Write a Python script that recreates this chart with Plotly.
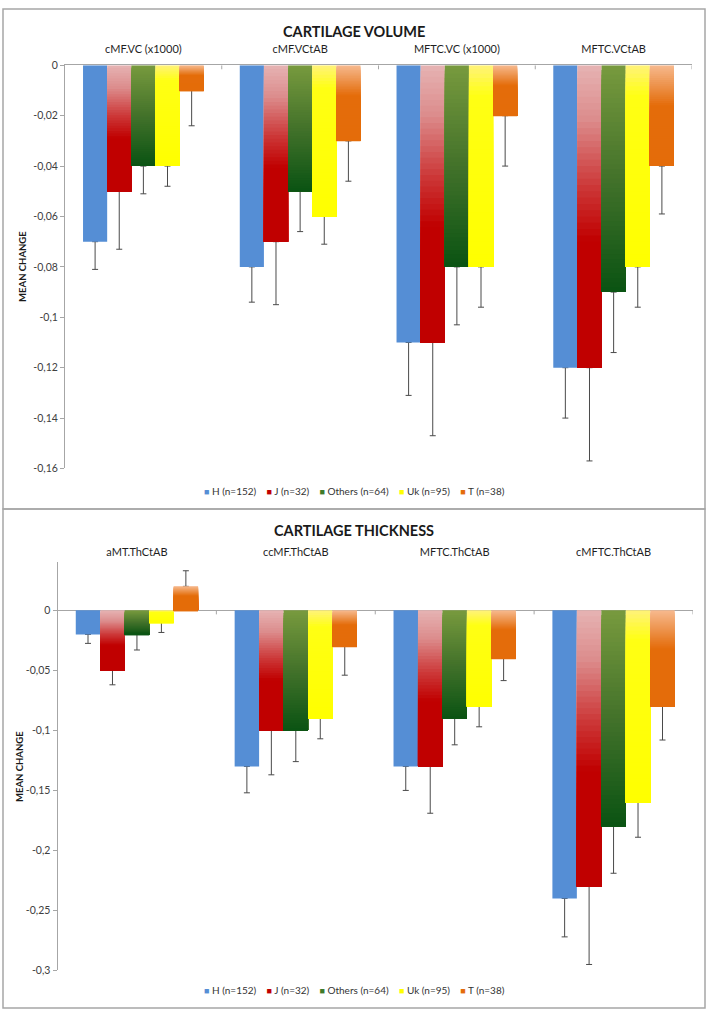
import plotly.graph_objects as go

# ---------------- data ----------------
series_names = ["H (n=152)", "J (n=32)", "Others (n=64)", "Uk (n=95)", "T (n=38)"]

vol_categories = ["cMF.VC (x1000)", "cMF.VCtAB", "MFTC.VC (x1000)", "MFTC.VCtAB"]
vol_H = [-0.07, -0.08, -0.11, -0.12]
vol_J = [-0.05, -0.07, -0.11, -0.12]
vol_Others = [-0.04, -0.05, -0.08, -0.09]
vol_Uk = [-0.04, -0.06, -0.08, -0.08]
vol_T = [-0.01, -0.03, -0.02, -0.04]
vol_err_H = [0.011, 0.014, 0.021, 0.020]
vol_err_J = [0.023, 0.025, 0.037, 0.037]
vol_err_Others = [0.011, 0.016, 0.023, 0.024]
vol_err_Uk = [0.008, 0.011, 0.016, 0.016]
vol_err_T = [0.014, 0.016, 0.020, 0.019]

thk_categories = ["aMT.ThCtAB", "ccMF.ThCtAB", "MFTC.ThCtAB", "cMFTC.ThCtAB"]
thk_H = [-0.02, -0.13, -0.13, -0.24]
thk_J = [-0.05, -0.10, -0.13, -0.23]
thk_Others = [-0.02, -0.10, -0.09, -0.18]
thk_Uk = [-0.01, -0.09, -0.08, -0.16]
thk_T = [0.02, -0.03, -0.04, -0.08]
thk_err_H = [0.0075, 0.022, 0.020, 0.032]
thk_err_J = [0.012, 0.037, 0.039, 0.065]
thk_err_Others = [0.013, 0.026, 0.022, 0.039]
thk_err_Uk = [0.0084, 0.017, 0.017, 0.029]
thk_err_T = [0.013, 0.024, 0.0185, 0.028]

vol_tickvals = [0, -0.02, -0.04, -0.06, -0.08, -0.1, -0.12, -0.14, -0.16]
vol_ticktext = ["0", "-0,02", "-0,04", "-0,06", "-0,08", "-0,1", "-0,12", "-0,14", "-0,16"]
thk_tickvals = [0, -0.05, -0.1, -0.15, -0.2, -0.25, -0.3]
thk_ticktext = ["0", "-0,05", "-0,1", "-0,15", "-0,2", "-0,25", "-0,3"]

# ---------------- styles ----------------
FONT = "Lato"
W, H = 708, 1017
gradients = [
    [(0.0, "#558ED5"), (1.0, "#558ED5")],
    [(0.0, "#E6B3B3"), (0.18, "#DC8C8C"), (0.4, "#CC3838"), (0.58, "#C00000"), (1.0, "#C00000")],
    [(0.0, "#789A3E"), (0.5, "#43722A"), (1.0, "#0A5313")],
    [(0.0, "#FFF27A"), (0.15, "#FFFF14"), (1.0, "#FFFF00")],
    [(0.0, "#F6B98E"), (0.4, "#E46C0A"), (1.0, "#E46C0A")],
]
legend_colors = ["#558ED5", "#C00000", "#3F7A2A", "#FFFF00", "#E46C0A"]
ERR_COLOR = "#4a4a4a"
AXIS_COLOR = "#a6a6a6"
K = 48


def hex2rgb(h):
    h = h.lstrip("#")
    return [int(h[i:i + 2], 16) for i in (0, 2, 4)]


def grad_color(stops, f):
    for (f0, c0), (f1, c1) in zip(stops[:-1], stops[1:]):
        if f0 <= f <= f1:
            t = 0 if f1 == f0 else (f - f0) / (f1 - f0)
            a, b = hex2rgb(c0), hex2rgb(c1)
            r = [round(a[i] + (b[i] - a[i]) * t) for i in range(3)]
            return "rgb(%d,%d,%d)" % tuple(r)
    return stops[-1][1]


fig = go.Figure()

panels = [
    ("x", "y", vol_categories,
     [vol_H, vol_J, vol_Others, vol_Uk, vol_T],
     [vol_err_H, vol_err_J, vol_err_Others, vol_err_Uk, vol_err_T]),
    ("x2", "y2", thk_categories,
     [thk_H, thk_J, thk_Others, thk_Uk, thk_T],
     [thk_err_H, thk_err_J, thk_err_Others, thk_err_Uk, thk_err_T]),
]

for xa, ya, cats, vals_list, errs_list in panels:
    # error-bar carriers (transparent bars), drawn first
    for i, (vals, errs) in enumerate(zip(vals_list, errs_list)):
        fig.add_trace(go.Bar(
            x=cats, y=vals, xaxis=xa, yaxis=ya, offsetgroup=str(i),
            marker=dict(color="rgba(0,0,0,0)", line=dict(width=0)),
            error_y=dict(type="data", symmetric=False,
                         array=[e if v > 0 else 0 for v, e in zip(vals, errs)],
                         arrayminus=[e if v < 0 else 0 for v, e in zip(vals, errs)],
                         color=ERR_COLOR, thickness=1, width=3),
            showlegend=False, hoverinfo="skip", name=series_names[i]))
    # gradient bars drawn as nested slices (each slice runs to the bar end)
    for i, vals in enumerate(vals_list):
        stops = gradients[i]
        n = 1 if len(set(c for _, c in stops)) == 1 else K
        for k in range(n):
            tops = [max(v, 0) - k * abs(v) / n for v in vals]
            bottoms = [min(v, 0) for v in vals]
            fig.add_trace(go.Bar(
                x=cats, y=[b - t for b, t in zip(bottoms, tops)], base=tops,
                xaxis=xa, yaxis=ya, offsetgroup=str(i),
                marker=dict(color=grad_color(stops, (k + 0.5) / n), line=dict(width=0)),
                showlegend=False, hoverinfo="skip", name=series_names[i]))

# ---------------- layout ----------------
def py(p):
    return 1 - p / H

axis_common = dict(showgrid=False, fixedrange=True)
fig.update_layout(
    width=W, height=H, autosize=False,
    margin=dict(l=0, r=0, t=0, b=0),
    paper_bgcolor="white", plot_bgcolor="white",
    barmode="group", bargap=0.23, bargroupgap=0,
    showlegend=False,
    font=dict(family=FONT, color="#262626"),
    xaxis=dict(domain=[65 / W, 692 / W], anchor="y", side="top", type="category",
               range=[-0.5, 3.5], showline=True, linecolor=AXIS_COLOR, linewidth=1,
               ticks="", ticklabelstandoff=7,
               tickfont=dict(family=FONT, size=11, color="#1f1f1f"), **axis_common),
    yaxis=dict(domain=[py(468), py(60)], anchor="x", range=[-0.16, 0],
               tickvals=vol_tickvals, ticktext=vol_ticktext,
               showline=True, linecolor=AXIS_COLOR, linewidth=1,
               ticks="outside", ticklen=4, tickcolor=AXIS_COLOR,
               tickfont=dict(family=FONT, size=10.5, color="#404040"),
               zeroline=False, **axis_common),
    xaxis2=dict(domain=[57.5 / W, 693 / W], anchor="y2", side="top", type="category",
                range=[-0.5, 3.5], showline=False, ticks="", ticklabelstandoff=3,
                tickfont=dict(family=FONT, size=11, color="#1f1f1f"), **axis_common),
    yaxis2=dict(domain=[py(976), py(563)], anchor="x2", range=[-0.3, 0.04],
                tickvals=thk_tickvals, ticktext=thk_ticktext,
                showline=True, linecolor=AXIS_COLOR, linewidth=1,
                ticks="outside", ticklen=4, tickcolor=AXIS_COLOR,
                tickfont=dict(family=FONT, size=10.5, color="#404040"),
                zeroline=True, zerolinecolor=AXIS_COLOR, zerolinewidth=1, **axis_common),
)

shapes = []
# panel frames
shapes.append(dict(type="rect", xref="paper", yref="paper", x0=3 / W, x1=705 / W,
                   y0=py(509), y1=py(3), line=dict(color=AXIS_COLOR, width=1.5)))
shapes.append(dict(type="rect", xref="paper", yref="paper", x0=3 / W, x1=705 / W,
                   y0=py(1014), y1=py(509), line=dict(color=AXIS_COLOR, width=1.5)))
# category boundary tick marks on the zero line
for xa, ya, cats in [("x", "y", vol_categories), ("x2", "y2", thk_categories)]:
    for j in range(1, len(cats) + 1):
        shapes.append(dict(type="line", xref=xa, yref=ya, ysizemode="pixel", yanchor=0,
                           x0=j - 0.5, x1=j - 0.5, y0=0, y1=-4,
                           line=dict(color=AXIS_COLOR, width=1)))
fig.update_layout(shapes=shapes)

legend_text = "&nbsp;&nbsp;&nbsp;&nbsp;".join(
    '<span style="color:%s;font-size:9px">■</span> %s' % (c, n)
    for c, n in zip(legend_colors, series_names))

annotations = [
    dict(text="<b>CARTILAGE VOLUME</b>", x=354 / W, y=py(26), font=dict(size=14.5, color="#1a1a1a")),
    dict(text="<b>CARTILAGE THICKNESS</b>", x=354 / W, y=py(531), font=dict(size=14.5, color="#1a1a1a")),
    dict(text="<b>MEAN CHANGE</b>", x=23 / W, y=py(264), textangle=-90, font=dict(size=9.5, color="#1a1a1a")),
    dict(text="<b>MEAN CHANGE</b>", x=20 / W, y=py(770), textangle=-90, font=dict(size=9.5, color="#1a1a1a")),
    dict(text=legend_text, x=354 / W, y=py(491), font=dict(size=10, color="#333333")),
    dict(text=legend_text, x=354 / W, y=py(996), font=dict(size=10, color="#333333")),
]
for a in annotations:
    a.update(xref="paper", yref="paper", showarrow=False, xanchor="center", yanchor="middle")
    a["font"]["family"] = FONT
fig.update_layout(annotations=annotations)

fig.write_html("out.html",
               config={"displayModeBar": False, "staticPlot": False},
               post_script="document.body.style.margin='0';document.body.style.overflow='hidden';")
